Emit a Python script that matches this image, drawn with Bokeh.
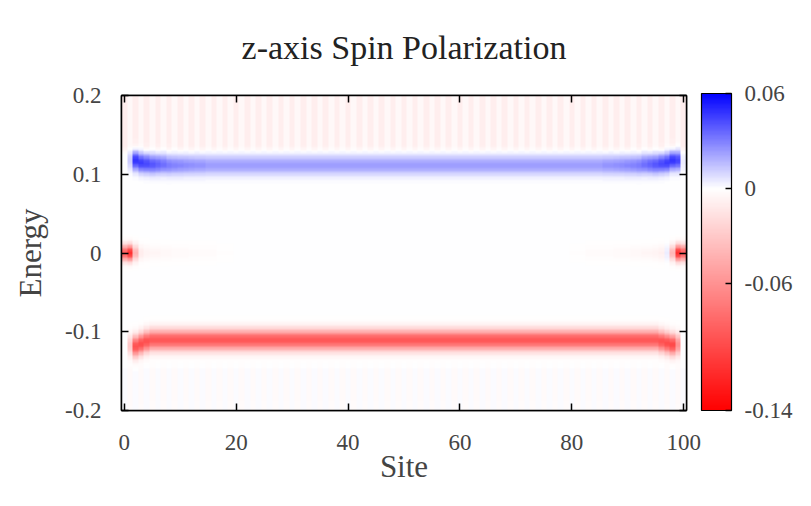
import numpy as np
from bokeh.plotting import figure
from bokeh.models import (LinearColorMapper, ColorBar, FixedTicker, LinearAxis,
                          Range1d, CustomJSTickFormatter)
from bokeh.embed import file_html
from bokeh.resources import INLINE

# ---------------- data ----------------
sites = list(range(101))
energy_ticks = [-0.2, -0.1, 0, 0.1, 0.2]
site_ticks = [0, 20, 40, 60, 80, 100]
cbar_ticks = [-0.14, -0.06, 0, 0.06]
title_text = "z-axis Spin Polarization"

# upper (blue) band: centre energy and strength per site
upper_center = ([0.114, 0.118, 0.118, 0.115, 0.114, 0.113, 0.113, 0.113, 0.112, 0.112]
                + [0.112] * 81
                + [0.112, 0.112, 0.113, 0.113, 0.113, 0.114, 0.115, 0.118, 0.118, 0.116])
upper_amp = ([0.000, 0.012, 0.048, 0.046, 0.043, 0.040, 0.037, 0.034, 0.031, 0.029,
              0.028, 0.027, 0.026, 0.025, 0.025]
             + [0.023] * 71
             + [0.025, 0.025, 0.026, 0.027, 0.028, 0.029, 0.031, 0.034, 0.037, 0.040,
                0.043, 0.046, 0.048, 0.044, 0.004])

# lower (red) band
lower_center = ([-0.114, -0.118, -0.119, -0.116, -0.113]
                + [-0.111] * 91
                + [-0.113, -0.115, -0.117, -0.117, -0.113])
lower_amp = ([0.000, -0.030, -0.095, -0.098, -0.096]
             + [-0.092] * 91
             + [-0.095, -0.098, -0.100, -0.060, 0.000])

# zero-energy edge states
zero_amp = ([-0.090, -0.115, -0.040, -0.010, -0.006, -0.005, -0.005, -0.004, -0.004, -0.003,
             -0.003, -0.003, -0.002, -0.002, -0.002, -0.002, -0.002, -0.001, -0.001, -0.001]
            + [0.000] * 60
            + [-0.001, -0.001, -0.001, -0.002, -0.002, -0.002, -0.002, -0.002, -0.003, -0.003,
               -0.003, -0.004, -0.004, -0.005, -0.005, -0.006, -0.008, 0.004, -0.040, -0.115,
               -0.090])

# faint striped backgrounds above the blue band and below the red band
top_bg = [-0.009, -0.004] * 50 + [-0.009]
bottom_bg = [0.0008, -0.0025] * 50 + [0.0008]

# ---------------- build the image ----------------
E = np.linspace(-0.2, 0.2, 241)
uc = np.array(upper_center)[None, :]
ua = np.array(upper_amp)[None, :]
lc = np.array(lower_center)[None, :]
la = np.array(lower_amp)[None, :]
za = np.array(zero_amp)[None, :]
tb = np.array(top_bg)[None, :]
bb = np.array(bottom_bg)[None, :]
Ec = E[:, None]

img = (ua * np.exp(-0.5 * ((Ec - uc) / 0.0085) ** 2)
       + la * np.exp(-0.5 * ((Ec - lc) / 0.0090) ** 2)
       + za * np.exp(-0.5 * (Ec / 0.0068) ** 2)
       + tb * np.clip((Ec - 0.126) / 0.010, 0, 1)
       + bb * np.clip((-0.138 - Ec) / 0.012, 0, 1))

# ---------------- palette: red -> white -> blue ----------------
low, high = -0.14, 0.06
N = 256
palette = []
for i in range(N):
    v = low + (i + 0.5) / N * (high - low)
    if v < 0:
        t = v / low
        r, g, b = 255, 255 * (1 - t), 255 * (1 - t)
    else:
        t = v / high
        r, g, b = 255 * (1 - t), 255 * (1 - t), 255
    palette.append("#%02x%02x%02x" % (int(round(r)), int(round(g)), int(round(b))))

mapper = LinearColorMapper(palette=palette, low=low, high=high)

FONT = "Liberation Serif"

p = figure(width=795, height=490, output_backend="svg", toolbar_location=None,
           x_range=Range1d(-0.5, 100.5), y_range=Range1d(-0.2, 0.2),
           min_border_left=121, min_border_right=105, min_border_top=93,
           min_border_bottom=80, title=title_text)
p.title.align = "center"
p.title.vertical_align = "top"
p.title.text_font = FONT
p.title.text_font_size = "34px"
p.title.text_font_style = "normal"
p.title.text_color = "#222222"
p.title.standoff = 56

p.image(image=[img], x=-0.5, y=-0.2, dw=101, dh=0.4, color_mapper=mapper)

p.xgrid.visible = False
p.ygrid.visible = False
p.outline_line_color = "black"
p.outline_line_width = 1.5

fmt = CustomJSTickFormatter(code="return String(Math.round(tick*100)/100);")
blank = CustomJSTickFormatter(code="return '';")

for ax in p.xaxis:
    ax.ticker = FixedTicker(ticks=site_ticks)
for ax in p.yaxis:
    ax.ticker = FixedTicker(ticks=energy_ticks)
    ax.formatter = fmt

for ax in list(p.xaxis) + list(p.yaxis):
    ax.major_tick_in = 7
    ax.major_tick_out = 0
    ax.minor_tick_line_color = None
    ax.axis_line_width = 1.5
    ax.major_tick_line_width = 1.5
    ax.major_label_text_font = FONT
    ax.major_label_text_font_size = "23px"
    ax.axis_label_text_font = FONT
    ax.axis_label_text_font_size = "31px"
    ax.axis_label_text_font_style = "normal"

p.xaxis.axis_label = "Site"
p.yaxis.axis_label = "Energy"
p.xaxis.major_label_standoff = 24
p.xaxis.axis_label_standoff = -4
p.yaxis.major_label_standoff = 20
p.yaxis.axis_label_standoff = 14

top = LinearAxis(ticker=FixedTicker(ticks=site_ticks), formatter=blank, major_tick_in=7,
                 major_tick_out=0, minor_tick_line_color=None,
                 major_label_standoff=0, axis_line_width=1.5, major_tick_line_width=1.5)
right = LinearAxis(ticker=FixedTicker(ticks=energy_ticks), formatter=blank, major_tick_in=7,
                   major_tick_out=0, minor_tick_line_color=None,
                   major_label_standoff=0, axis_line_width=1.5, major_tick_line_width=1.5)
p.add_layout(top, "above")
p.add_layout(right, "right")

cb = ColorBar(color_mapper=mapper, ticker=FixedTicker(ticks=cbar_ticks), formatter=fmt,
              width=30, height=317, padding=0, margin=0, location=(15, 0),
              bar_line_color="black", bar_line_width=1.2,
              major_tick_in=6, major_tick_out=0, major_tick_line_color="black",
              major_tick_line_width=1.5, minor_tick_line_color=None,
              major_label_text_font=FONT, major_label_text_font_size="23px",
              label_standoff=13, background_fill_alpha=0)
p.add_layout(cb, "right")

open("out.html", "w").write(file_html(p, INLINE))
